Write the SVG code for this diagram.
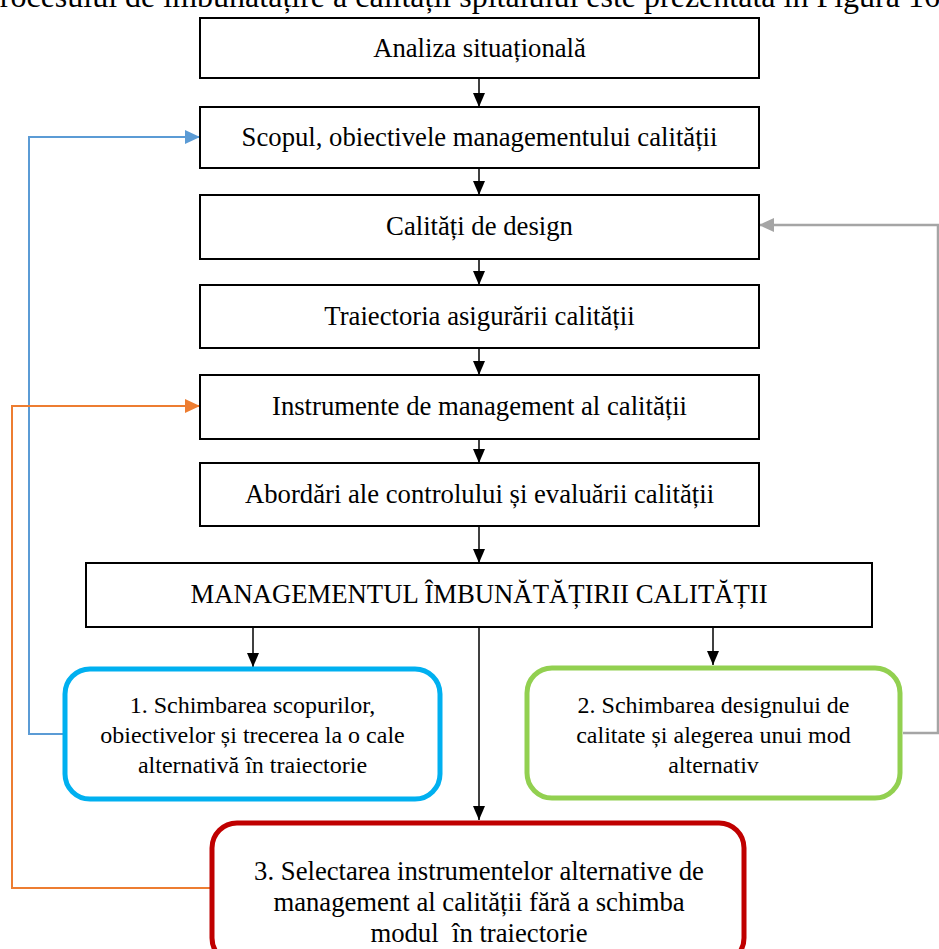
<svg xmlns="http://www.w3.org/2000/svg" width="939" height="949" viewBox="0 0 939 949">
<style>
.t{fill:#000;text-anchor:middle}
.L{font-size:26.7px}
.box{fill:#fff;stroke:#000;stroke-width:2}
.rbox{fill:#fff;stroke-width:5}
.c{fill:none;stroke-width:1.5}
</style>
<defs>
<marker id="ab" markerUnits="userSpaceOnUse" markerWidth="14" markerHeight="12" refX="14" refY="6" orient="auto"><path d="M0,0 L14,6 L0,12 z" fill="#000"/></marker>
<marker id="abl" markerUnits="userSpaceOnUse" markerWidth="15" markerHeight="14" refX="15" refY="7" orient="auto"><path d="M0,0 L15,7 L0,14 z" fill="#5B9BD5"/></marker>
<marker id="aor" markerUnits="userSpaceOnUse" markerWidth="15" markerHeight="14" refX="15" refY="7" orient="auto"><path d="M0,0 L15,7 L0,14 z" fill="#ED7D31"/></marker>
<marker id="agr" markerUnits="userSpaceOnUse" markerWidth="15" markerHeight="14" refX="15" refY="7" orient="auto"><path d="M0,0 L15,7 L0,14 z" fill="#A5A5A5"/></marker>
</defs>
<g font-family="'Liberation Serif', 'Times New Roman', serif" font-size="24">
<text x="-18" y="7" font-size="32" fill="#000">Procesului de îmbunătățire a calității spitalului este prezentată în Figura 16</text>
<g id="connectors">
<line class="c" stroke="#000" x1="479" y1="78" x2="479" y2="107" marker-end="url(#ab)"/>
<line class="c" stroke="#000" x1="479" y1="168" x2="479" y2="195" marker-end="url(#ab)"/>
<line class="c" stroke="#000" x1="479" y1="259" x2="479" y2="285" marker-end="url(#ab)"/>
<line class="c" stroke="#000" x1="479" y1="348" x2="479" y2="375" marker-end="url(#ab)"/>
<line class="c" stroke="#000" x1="479" y1="439" x2="479" y2="463" marker-end="url(#ab)"/>
<line class="c" stroke="#000" x1="479" y1="526" x2="479" y2="563" marker-end="url(#ab)"/>
<line class="c" stroke="#000" x1="253" y1="627" x2="253" y2="667" marker-end="url(#ab)"/>
<line class="c" stroke="#000" x1="713" y1="627" x2="713" y2="665" marker-end="url(#ab)"/>
<line class="c" stroke="#000" x1="479" y1="627" x2="479" y2="820" marker-end="url(#ab)"/>
<polyline fill="none" stroke="#5B9BD5" stroke-width="2" points="63,734 29,734 29,137 200,137" marker-end="url(#abl)"/>
<polyline fill="none" stroke="#ED7D31" stroke-width="2" points="210,888 12,888 12,406 200,406" marker-end="url(#aor)"/>
<polyline fill="none" stroke="#A5A5A5" stroke-width="2.5" points="903,733 938,733 938,225 759,225" marker-end="url(#agr)"/>
</g>
<g id="n1"><rect class="box" x="200" y="18" width="559" height="60"/><text class="t L" x="479.5" y="57">Analiza situațională</text></g>
<g id="n2"><rect class="box" x="200" y="107" width="559" height="61"/><text class="t L" x="479.5" y="146">Scopul, obiectivele managementului calității</text></g>
<g id="n3"><rect class="box" x="200" y="195" width="559" height="64"/><text class="t L" x="479.5" y="235">Calități de design</text></g>
<g id="n4"><rect class="box" x="200" y="285" width="559" height="63"/><text class="t L" x="479.5" y="325">Traiectoria asigurării calității</text></g>
<g id="n5"><rect class="box" x="200" y="375" width="559" height="64"/><text class="t L" x="479.5" y="415">Instrumente de management al calității</text></g>
<g id="n6"><rect class="box" x="200" y="463" width="559" height="63"/><text class="t L" x="479.5" y="503">Abordări ale controlului și evaluării calității</text></g>
<g id="n7"><rect class="box" x="86" y="563" width="786" height="64"/><text class="t L" x="479" y="603">MANAGEMENTUL ÎMBUNĂTĂȚIRII CALITĂȚII</text></g>
<g id="o1"><rect class="rbox" stroke="#00B0F0" x="65" y="669" width="375" height="130" rx="25"/>
<text class="t" x="252.5" y="713">1. Schimbarea scopurilor,</text>
<text class="t" x="252.5" y="743">obiectivelor și trecerea la o cale</text>
<text class="t" x="252.5" y="773">alternativă în traiectorie</text></g>
<g id="o2"><rect class="rbox" stroke="#92D050" x="527" y="668" width="373" height="130" rx="25"/>
<text class="t" x="713.5" y="713">2. Schimbarea designului de</text>
<text class="t" x="713.5" y="743">calitate și alegerea unui mod</text>
<text class="t" x="713.5" y="773">alternativ</text></g>
<g id="o3"><rect class="rbox" stroke="#C00000" x="212" y="823" width="532" height="140" rx="25"/>
<text class="t L" x="479" y="880">3. Selectarea instrumentelor alternative de</text>
<text class="t L" x="479" y="911">management al calității fără a schimba</text>
<text class="t L" x="479" y="942" xml:space="preserve">modul  în traiectorie</text></g>
</g>
</svg>
